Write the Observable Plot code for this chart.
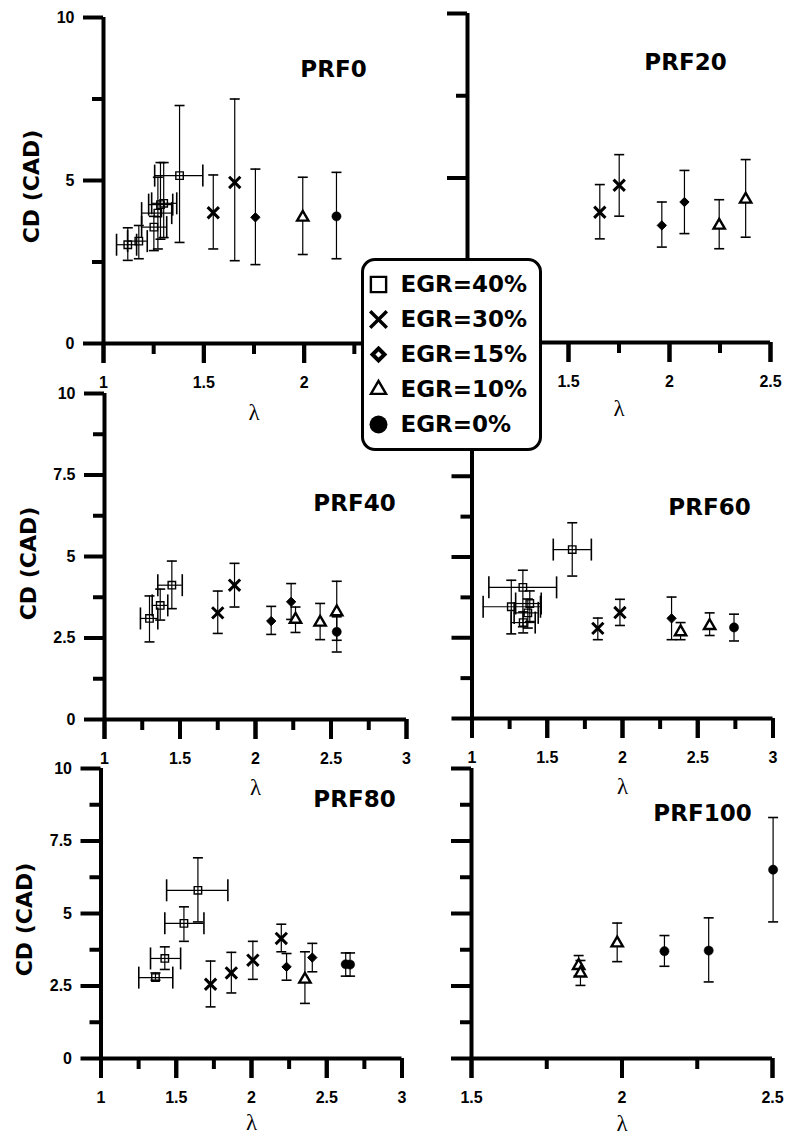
<!DOCTYPE html>
<html><head><meta charset="utf-8">
<script src="https://cdn.jsdelivr.net/npm/d3@7"></script>
<script src="https://cdn.jsdelivr.net/npm/@observablehq/plot@0.6"></script>
<style>
html,body{margin:0;padding:0;background:#fff;overflow:hidden}
#chart{position:relative;width:788px;height:1142px;background:#fff}
#chart > svg{position:absolute;left:0;top:0}
#legendbox{position:absolute;left:361px;top:258px;width:181px;height:193px;box-sizing:border-box;border:3px solid #000;border-radius:14px;background:#fff}
</style></head><body><div id="chart"></div>
<script>
// ---------- DATA ----------
// columns: EGR (%), lambda, CD (CAD), CD low, CD high, lambda low, lambda high
const legendLabels = ["EGR=40%", "EGR=30%", "EGR=15%", "EGR=10%", "EGR=0%"];
const panelTitles = ["PRF0", "PRF20", "PRF40", "PRF60", "PRF80", "PRF100"];
const yAxisTitle = "CD (CAD)";
const xAxisTitle = "λ";

const prf0 = [
  [40, 1.121, 3.03, 2.55, 3.55, 1.065, 1.165],
  [40, 1.176, 3.14, 2.60, 3.62, 1.120, 1.218],
  [40, 1.251, 3.57, 2.85, 3.90, 1.190, 1.315],
  [40, 1.271, 4.00, 2.90, 5.10, 1.190, 1.340],
  [40, 1.284, 4.26, 3.20, 5.55, 1.225, 1.345],
  [40, 1.300, 4.30, 3.25, 5.55, 1.240, 1.365],
  [40, 1.379, 5.15, 3.10, 7.30, 1.255, 1.495],
  [30, 1.547, 4.01, 2.90, 5.17, null, null],
  [30, 1.654, 4.94, 2.54, 7.50, null, null],
  [15, 1.757, 3.87, 2.42, 5.35, null, null],
  [10, 1.993, 3.87, 2.73, 5.10, null, null],
  [0, 2.161, 3.90, 2.60, 5.25, null, null]
];
const prf20 = [
  [30, 1.655, 3.96, 3.15, 4.80, null, null],
  [30, 1.751, 4.78, 3.84, 5.71, null, null],
  [15, 1.962, 3.56, 2.90, 4.27, null, null],
  [15, 2.074, 4.27, 3.31, 5.23, null, null],
  [10, 2.246, 3.56, 2.85, 4.34, null, null],
  [10, 2.377, 4.35, 3.20, 5.56, null, null]
];
const prf40 = [
  [40, 1.298, 3.10, 2.38, 3.79, 1.238, 1.353],
  [40, 1.369, 3.50, 3.05, 4.00, 1.316, 1.419],
  [40, 1.446, 4.12, 3.40, 4.86, 1.353, 1.515],
  [30, 1.750, 3.27, 2.64, 3.94, null, null],
  [30, 1.861, 4.12, 3.45, 4.79, null, null],
  [15, 2.104, 3.02, 2.61, 3.47, null, null],
  [15, 2.236, 3.61, 3.07, 4.17, null, null],
  [10, 2.265, 3.07, 2.67, 3.45, null, null],
  [10, 2.428, 2.98, 2.45, 3.56, null, null],
  [10, 2.538, 3.30, 2.43, 4.24, null, null],
  [0, 2.538, 2.69, 2.07, 3.15, null, null]
];
const prf60 = [
  [40, 1.666, 5.23, 4.41, 6.06, 1.540, 1.793],
  [40, 1.338, 4.06, 2.84, 4.59, 1.112, 1.562],
  [40, 1.261, 3.46, 2.62, 4.28, 1.074, 1.455],
  [40, 1.384, 3.56, 3.00, 3.95, 1.290, 1.460],
  [40, 1.371, 3.27, 2.80, 3.70, 1.280, 1.440],
  [40, 1.340, 2.97, 2.65, 3.30, 1.260, 1.420],
  [30, 1.836, 2.79, 2.44, 3.11, null, null],
  [30, 1.983, 3.28, 2.88, 3.69, null, null],
  [15, 2.326, 3.10, 2.44, 3.76, null, null],
  [10, 2.386, 2.68, 2.44, 2.97, null, null],
  [10, 2.579, 2.87, 2.57, 3.27, null, null],
  [0, 2.741, 2.82, 2.40, 3.23, null, null]
];
const prf80 = [
  [40, 1.362, 2.79, 2.70, 2.95, 1.251, 1.477],
  [40, 1.424, 3.45, 3.07, 3.85, 1.329, 1.529],
  [40, 1.551, 4.66, 4.04, 5.23, 1.424, 1.684],
  [40, 1.644, 5.80, 4.71, 6.92, 1.436, 1.843],
  [30, 1.728, 2.56, 1.78, 3.36, null, null],
  [30, 1.866, 2.95, 2.26, 3.66, null, null],
  [30, 2.009, 3.39, 2.73, 4.04, null, null],
  [30, 2.198, 4.14, 3.68, 4.63, null, null],
  [15, 2.233, 3.16, 2.70, 3.62, null, null],
  [10, 2.355, 2.73, 1.90, 3.68, null, null],
  [15, 2.404, 3.48, 2.99, 3.97, null, null],
  [0, 2.626, 3.25, 2.84, 3.64, null, null],
  [0, 2.655, 3.24, 2.84, 3.64, null, null]
];
const prf100 = [
  [10, 1.856, 3.20, 2.85, 3.55, null, null],
  [10, 1.862, 2.94, 2.52, 3.38, null, null],
  [10, 1.984, 3.98, 3.34, 4.67, null, null],
  [0, 2.141, 3.70, 3.18, 4.24, null, null],
  [0, 2.288, 3.72, 2.64, 4.85, null, null],
  [0, 2.502, 6.51, 4.71, 8.31, null, null]
];

// tick values (labelled ticks listed separately: labels hidden under the legend are not drawn)
const yMajorTop = [0, 5, 10], yMinorTop = [2.5, 7.5];
const yMajor = [0, 2.5, 5, 7.5, 10], yMinor = [1.25, 3.75, 6.25, 8.75];
const xMajorTop = [1, 1.5, 2, 2.5], xMinorTop = [1.25, 1.75, 2.25];
const xLabels0 = [1, 1.5, 2], xLabels20 = [1.5, 2, 2.5];
const xMajor = [1, 1.5, 2, 2.5, 3], xMinor = [1.25, 1.75, 2.25, 2.75];
const xMajor100 = [1.5, 2, 2.5], xMinor100 = [1.75, 2.25];

// ---------- LAYOUT (pixel frames) ----------
const W = 788, H = 1142;
const panels = [
  {rows: prf0, title: panelTitles[0], xd: [1, 2.5], l: 103, r: 404, t: 17, b: 343, xM: xMajorTop, xL: xLabels0, xm: xMinorTop, yM: yMajorTop, ym: yMinorTop, yLab: true, tt: [333, 69], lamDy: 69, yl: [31, 6]},
  {rows: prf20, title: panelTitles[1], xd: [1, 2.5], l: 467, r: 770, t: 13, b: 342, xM: xMajorTop, xL: xLabels20, xm: xMinorTop, yM: yMajorTop, ym: yMinorTop, yLab: false, tt: [685, 62], lamDy: 66},
  {rows: prf40, title: panelTitles[2], xd: [1, 3], l: 104, r: 406, t: 393, b: 719, xM: xMajor, xL: xMajor, xm: xMinor, yM: yMajor, ym: yMinor, yLab: true, tt: [354, 503], lamDy: 68, yl: [28, 7]},
  {rows: prf60, title: panelTitles[3], xd: [1, 3], l: 471.5, r: 772.5, t: 395, b: 718, xM: xMajor, xL: xMajor, xm: xMinor, yM: yMajor, ym: yMinor, yLab: false, tt: [709, 507], lamDy: 68},
  {rows: prf80, title: panelTitles[4], xd: [1, 3], l: 100.5, r: 401.5, t: 768, b: 1058, xM: xMajor, xL: xMajor, xm: xMinor, yM: yMajor, ym: yMinor, yLab: true, tt: [354, 799], lamDy: 64, yl: [24, 6]},
  {rows: prf100, title: panelTitles[5], xd: [1.5, 2.5], l: 471, r: 772, t: 768, b: 1058, xM: xMajor100, xL: xMajor100, xm: xMinor100, yM: yMajor, ym: yMinor, yLab: false, tt: [702, 813], lamDy: 65}
];

const hcap = {draw(ctx, size) { const r = Math.sqrt(size / Math.PI); ctx.moveTo(-r, 0); ctx.lineTo(r, 0); }};
const vcap = {draw(ctx, size) { const r = Math.sqrt(size / Math.PI); ctx.moveTo(0, -r); ctx.lineTo(0, r); }};

const svgStyle = {background: "transparent", overflow: "visible", color: "black",
  fontFamily: "'Liberation Sans', Arial, sans-serif", fontWeight: "bold", fontSize: "16px"};
const boldFont = "'DejaVu Sans', sans-serif";

const chart = document.getElementById("chart");

for (const p of panels) {
  const data = p.rows.map(([egr, lam, cd, lo, hi, xlo, xhi]) => ({egr, lam, cd, lo, hi, xlo, xhi}));
  const withX = data.filter(d => d.xlo != null);
  const g = e => data.filter(d => d.egr === e);
  const bar = {stroke: "black", strokeWidth: 1.2};
  const cap = {stroke: "black", strokeWidth: 1.6, fill: "none"};
  const marks = [
    Plot.ruleX(data, {x: "lam", y1: "lo", y2: "hi", ...bar}),
    Plot.dot(data, {x: "lam", y: "lo", symbol: hcap, r: 5, ...cap}),
    Plot.dot(data, {x: "lam", y: "hi", symbol: hcap, r: 5, ...cap}),
    Plot.ruleY(withX, {y: "cd", x1: "xlo", x2: "xhi", ...bar}),
    Plot.dot(withX, {x: "xlo", y: "cd", symbol: vcap, r: 11, ...cap}),
    Plot.dot(withX, {x: "xhi", y: "cd", symbol: vcap, r: 11, ...cap}),
    Plot.dot(g(40), {x: "lam", y: "cd", symbol: "square", r: 4.2, fill: "none", stroke: "black", strokeWidth: 1.4}),
    Plot.dot(g(30), {x: "lam", y: "cd", symbol: "times", r: 5.2, fill: "none", stroke: "black", strokeWidth: 3}),
    Plot.dot(g(15), {x: "lam", y: "cd", symbol: "diamond2", r: 4.2, fill: "black", stroke: "black", strokeWidth: 1}),
    Plot.dot(g(10), {x: "lam", y: "cd", symbol: "triangle", r: 4.2, fill: "white", stroke: "black", strokeWidth: 2.4}),
    Plot.dot(g(0), {x: "lam", y: "cd", symbol: "circle", r: 4.6, fill: "black", stroke: "black", strokeWidth: 0.5}),
    // axes
    Plot.axisX({ticks: p.xM, tickSize: 20, strokeWidth: 4, label: null, tickFormat: () => ""}),
    Plot.axisX({ticks: p.xL, tickSize: 20, tickPadding: 13, strokeWidth: 4, label: null, tickFormat: d => String(d), fontSize: 16, fontWeight: "bold"}),
    Plot.axisX({ticks: p.xm, tickSize: 11, strokeWidth: 4, label: null, tickFormat: () => ""}),
    Plot.axisY({ticks: p.yM, tickSize: 20, tickPadding: 9, strokeWidth: 4, label: null, tickFormat: p.yLab ? d => String(d) : () => "", fontSize: 16, fontWeight: "bold"}),
    Plot.axisY({ticks: p.ym, tickSize: 11, strokeWidth: 4, label: null, tickFormat: () => ""}),
    Plot.ruleY([0], {stroke: "black", strokeWidth: 4}),
    Plot.ruleX([p.xd[0]], {stroke: "black", strokeWidth: 4}),
    Plot.text([p.title], {frameAnchor: "top-left", dx: p.tt[0] - p.l, dy: p.tt[1] - p.t, textAnchor: "middle", lineAnchor: "middle",
      fontFamily: boldFont, fontWeight: "bold", fontSize: 23}),
    Plot.text([xAxisTitle], {frameAnchor: "bottom", dy: p.lamDy, textAnchor: "middle", lineAnchor: "middle",
      fontFamily: "'Liberation Serif', 'Times New Roman', serif", fontWeight: "normal", fontSize: 23})
  ];
  if (p.yLab) marks.push(Plot.text([yAxisTitle], {frameAnchor: "left", dx: p.yl[0] - p.l, dy: p.yl[1], rotate: -90,
    textAnchor: "middle", lineAnchor: "middle", fontFamily: boldFont, fontWeight: "bold", fontSize: 22}));
  const svg = Plot.plot({
    width: W, height: H,
    marginLeft: p.l, marginRight: W - p.r, marginTop: p.t, marginBottom: H - p.b,
    x: {domain: p.xd}, y: {domain: [0, 10]},
    style: svgStyle,
    marks
  });
  chart.appendChild(svg);
}

// legend box
const box = document.createElement("div");
box.id = "legendbox";
chart.appendChild(box);

const lg = (i, opts) => Plot.dot([legendLabels[i]], {y: d => d, frameAnchor: "left", stroke: "black", ...opts});
const legend = Plot.plot({
  width: W, height: H,
  marginLeft: 378, marginRight: W - 540, marginTop: 282, marginBottom: H - 425,
  y: {type: "point", domain: legendLabels, padding: 0, axis: null},
  style: svgStyle,
  marks: [
    lg(0, {symbol: "square", r: 8.6, fill: "none", strokeWidth: 2.4}),
    lg(1, {symbol: "times", r: 7.6, fill: "none", strokeWidth: 3.4}),
    lg(2, {symbol: "diamond2", r: 5.4, fill: "white", strokeWidth: 4}),
    lg(3, {symbol: "triangle", r: 5.6, fill: "none", strokeWidth: 2.4}),
    lg(4, {symbol: "circle", r: 9, fill: "black", strokeWidth: 0}),
    Plot.text(legendLabels, {y: d => d, frameAnchor: "left", dx: 22, textAnchor: "start", lineAnchor: "middle",
      fontFamily: boldFont, fontWeight: "bold", fontSize: 23})
  ]
});
chart.appendChild(legend);
</script></body></html>
